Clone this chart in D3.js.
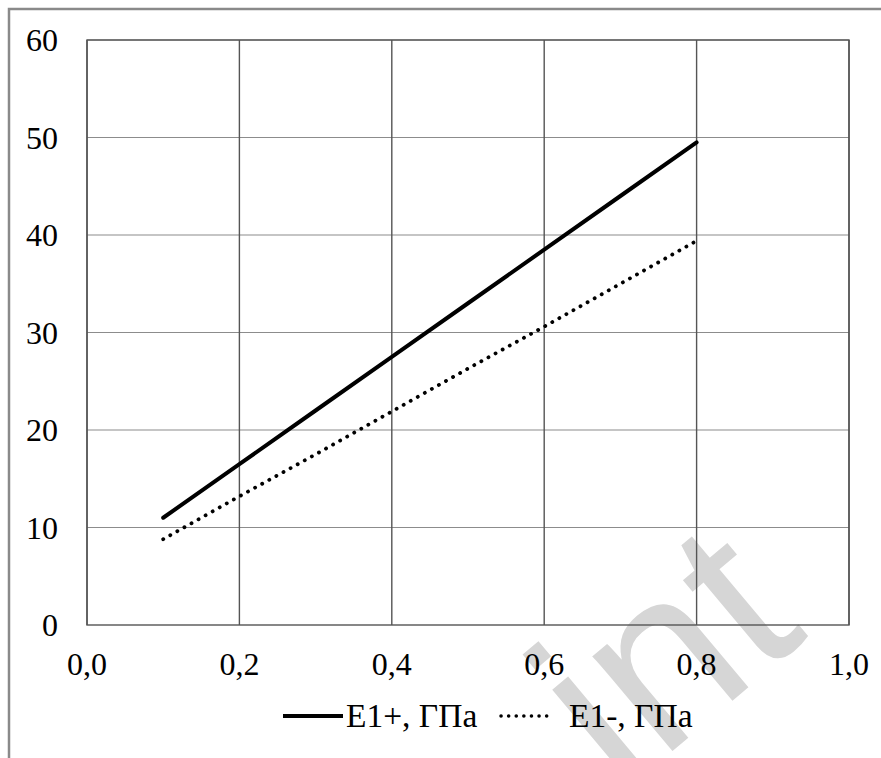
<!DOCTYPE html>
<html>
<head>
<meta charset="utf-8">
<script src="https://cdn.jsdelivr.net/npm/d3@7/dist/d3.min.js"></script>
</head>
<body style="margin:0">
<svg id="chart" width="881" height="758"></svg>
<script>
const width = 881;
const height = 758;

// data
const xValues = [0.1, 0.2, 0.3, 0.4, 0.5, 0.6, 0.7, 0.8];
const ePlus  = [11.0, 16.5, 22.0, 27.5, 33.0, 38.5, 44.0, 49.5];
const eMinus = [8.8, 13.2, 17.5, 21.9, 26.3, 30.6, 35.0, 39.4];
const xTicks = [0, 0.2, 0.4, 0.6, 0.8, 1.0];
const yTicks = [0, 10, 20, 30, 40, 50, 60];
const seriesNames = ['E1+, ГПа', 'E1-, ГПа'];

const margin = {left:87, top:40, right:32, bottom:133};
const svg = d3.select('#chart');

const x = d3.scaleLinear().domain([0,1]).range([margin.left, width-margin.right]);
const y = d3.scaleLinear().domain([0,60]).range([height-margin.bottom, margin.top]);
const fmt = d => d3.format('.1f')(d).replace('.', ',');

// outer frame
svg.append('rect')
  .attr('x',9).attr('y',9).attr('width',width+20).attr('height',height+20)
  .attr('fill','#fff').attr('stroke','#8a8a8a').attr('stroke-width',2.5);

// watermark goes in this layer, filled at the end
const wmLayer = svg.append('g');

// horizontal grid
svg.append('g').selectAll('line').data(yTicks.slice(1)).enter().append('line')
  .attr('x1',x(0)).attr('x2',x(1))
  .attr('y1',d=>y(d)).attr('y2',d=>y(d))
  .attr('stroke','#8c8c8c').attr('stroke-width',1.2);

// vertical grid
svg.append('g').selectAll('line').data(xTicks).enter().append('line')
  .attr('x1',d=>x(d)).attr('x2',d=>x(d))
  .attr('y1',y(0)).attr('y2',y(60))
  .attr('stroke','#555').attr('stroke-width',1.4);

// plot frame
svg.append('rect')
  .attr('x',x(0)).attr('y',y(60)).attr('width',x(1)-x(0)).attr('height',y(0)-y(60))
  .attr('fill','none').attr('stroke','#555').attr('stroke-width',1.4);

// y labels
svg.append('g').selectAll('text').data(yTicks).enter().append('text')
  .attr('x',58).attr('y',d=>y(d)+11)
  .attr('text-anchor','end')
  .attr('font-size',32)
  .style('font-family','Liberation Serif')
  .text(d=>d);

// x labels
svg.append('g').selectAll('text').data(xTicks).enter().append('text')
  .attr('x',d=>x(d)).attr('y',y(0)+50)
  .attr('text-anchor','middle')
  .attr('font-size',32)
  .style('font-family','Liberation Serif')
  .text(fmt);

const line = d3.line().x((d,i)=>x(xValues[i])).y(d=>y(d));

svg.append('path').datum(ePlus)
  .attr('d',line).attr('fill','none')
  .attr('stroke','#000').attr('stroke-width',4).attr('stroke-linecap','round');

svg.append('path').datum(eMinus)
  .attr('d',line).attr('fill','none')
  .attr('stroke','#000').attr('stroke-width',3.8)
  .attr('stroke-linecap','round').attr('stroke-dasharray','0.1 8');

// legend
const ly = 716;
svg.append('line').attr('x1',283).attr('x2',343).attr('y1',ly).attr('y2',ly)
  .attr('stroke','#000').attr('stroke-width',4);
svg.append('text').attr('x',346).attr('y',ly+11)
  .attr('font-size',33.5).style('font-family','Liberation Serif').text(seriesNames[0]);
svg.append('line').attr('x1',501).attr('x2',551).attr('y1',ly).attr('y2',ly)
  .attr('stroke','#000').attr('stroke-width',3.5)
  .attr('stroke-linecap','round').attr('stroke-dasharray','0.1 7.5');
svg.append('text').attr('x',569).attr('y',ly+11)
  .attr('font-size',33.5).style('font-family','Liberation Serif').text(seriesNames[1]);

// watermark (only its tail is visible in the picture)
wmLayer.append('text')
  .attr('transform','translate(620,795) rotate(-40)')
  .attr('font-size',235)
  .style('font-family','Liberation Sans')
  .style('fill','#d6d6d6')
  .text('int');
</script>
</body>
</html>
